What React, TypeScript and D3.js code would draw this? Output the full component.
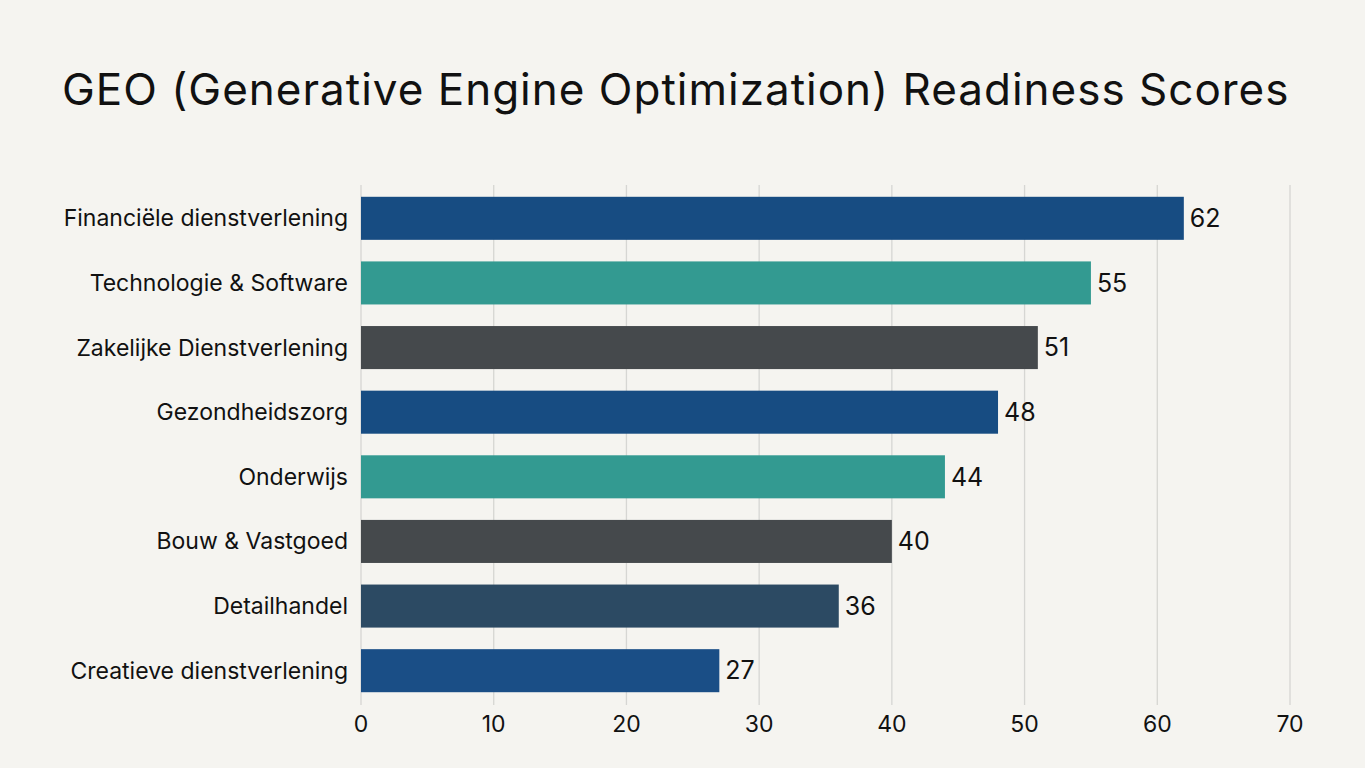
import React from 'react';
import * as d3 from 'd3';

const categories = [
  'Financiële dienstverlening',
  'Technologie & Software',
  'Zakelijke Dienstverlening',
  'Gezondheidszorg',
  'Onderwijs',
  'Bouw & Vastgoed',
  'Detailhandel',
  'Creatieve dienstverlening',
];
const scores = [62, 55, 51, 48, 44, 40, 36, 27];
const barColors = ['#174c82', '#339a91', '#45494c', '#174c82', '#339a91', '#45494c', '#2c4a63', '#1a4e86'];
const ticks = [0, 10, 20, 30, 40, 50, 60, 70];
const title = 'GEO (Generative Engine Optimization) Readiness Scores';

const W = 1365;
const H = 768;
const font = 'Inter, "Noto Sans", sans-serif';

export default function App() {
  const x = d3.scaleLinear().domain([0, 70]).range([361, 1290]);
  const y = d3.scaleBand<string>().domain(categories).range([186, 703]).paddingInner(0.334).paddingOuter(0.167);

  return (
    <svg width={W} height={H} style={{ position: 'absolute', left: 0, top: 0, background: '#f5f4f0' }}>
      <rect width={W} height={H} fill="#f5f4f0" />
      <text x={62} y={105} fontFamily={font} fontSize={44} letterSpacing={1.0} fill="#111">{title}</text>

      {ticks.map(t => (
        <g key={t}>
          <line x1={x(t)} x2={x(t)} y1={185} y2={705} stroke="#d6d6d3" strokeWidth={1.3} />
          <text x={x(t)} y={732} textAnchor="middle" fontFamily={font} fontSize={23} fill="#111">{t}</text>
        </g>
      ))}

      {categories.map((c, i) => {
        const yy = y(c)!;
        const bw = y.bandwidth();
        return (
          <g key={c}>
            <rect x={x(0)} y={yy} width={x(scores[i]) - x(0)} height={bw} fill={barColors[i]} />
            <text x={348} y={yy + bw / 2} dy="0.35em" textAnchor="end" fontFamily={font} fontSize={23} fill="#111">{c}</text>
            <text x={x(scores[i]) + 6} y={yy + bw / 2} dy="0.35em" fontFamily={font} fontSize={25} fill="#111">{scores[i]}</text>
          </g>
        );
      })}
    </svg>
  );
}
